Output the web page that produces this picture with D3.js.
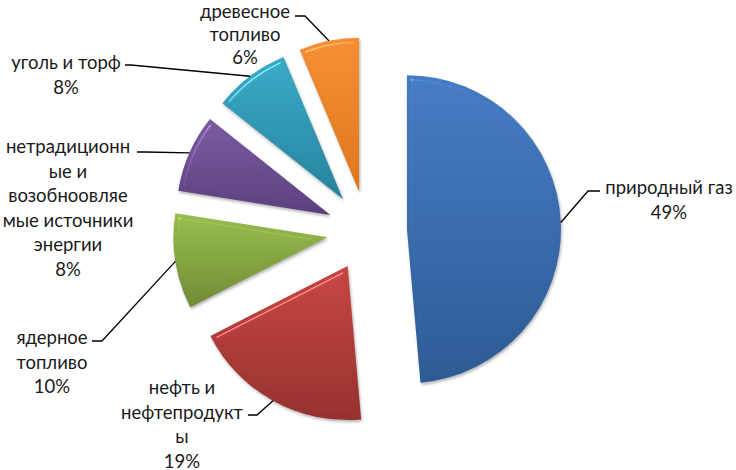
<!DOCTYPE html>
<html><head><meta charset="utf-8">
<script src="https://cdn.jsdelivr.net/npm/d3@7"></script>
<style>html,body{margin:0;padding:0;background:#fff;overflow:hidden}</style>
</head><body>
<svg id="chart" width="736" height="470"></svg>
<script>
// ---- data ----
const categories = ["природный газ", "нефть и нефтепродукты", "ядерное топливо",
  "нетрадиционные и возобноовляемые источники энергии", "уголь и торф", "древесное топливо"];
const values = [48.6, 18.9, 10.0, 8.2, 8.0, 6.3];
const labelLines = [
  ["природный газ"],
  ["нефть и", "нефтепродукт", "ы"],
  ["ядерное", "топливо"],
  ["нетрадиционн", "ые и", "возобноовляе", "мые источники", "энергии"],
  ["уголь и торф"],
  ["древесное", "топливо"]
];
const topColors = ["#467CC4", "#C64643", "#98BD4E", "#7B5AA2", "#3AAAC7", "#F68E35"];
const bottomColors = ["#2C5A94", "#96312F", "#708A34", "#5A407D", "#26839E", "#DD761C"];

// ---- layout ----
const W = 736, H = 470;
const cx = 367, cy = 231, R = 154, explode = 40;
const labelLayout = [
  {x: 669, y: 194, lh: 24.5, elbow: [588, 191], end: [600, 191]},
  {x: 182, y: 394, lh: 24.5, elbow: [257, 415], end: [248, 415]},
  {x: 52,  y: 344, lh: 24.5, elbow: [102, 341], end: [92, 341]},
  {x: 68,  y: 153, lh: 24.5, elbow: [146, 152], end: [137, 152]},
  {x: 66,  y: 69,  lh: 24.5, elbow: [131, 65],  end: [125, 65]},
  {x: 245, y: 18,  lh: 23,   elbow: [305, 16], end: [295, 16]}
];

const svg = d3.select("#chart");
const defs = svg.append("defs");

// bevel + shadow filter
const f = defs.append("filter").attr("id", "bevel")
  .attr("color-interpolation-filters", "sRGB")
  .attr("x", "-10%").attr("y", "-10%").attr("width", "120%").attr("height", "120%");
f.append("feGaussianBlur").attr("in", "SourceAlpha").attr("stdDeviation", 2).attr("result", "blur");
const spec = f.append("feSpecularLighting").attr("in", "blur").attr("surfaceScale", 4)
  .attr("specularConstant", 0.9).attr("specularExponent", 90)
  .attr("lighting-color", "#ffffff").attr("result", "spec");
spec.append("feDistantLight").attr("azimuth", 235).attr("elevation", 55);
f.append("feComposite").attr("in", "spec").attr("in2", "SourceAlpha").attr("operator", "in").attr("result", "specIn");
f.append("feComposite").attr("in", "SourceGraphic").attr("in2", "specIn").attr("operator", "arithmetic")
  .attr("k1", 0).attr("k2", 1).attr("k3", 0.4).attr("k4", 0).attr("result", "lit");
f.append("feGaussianBlur").attr("in", "SourceAlpha").attr("stdDeviation", 1.5).attr("result", "sblur");
f.append("feOffset").attr("in", "sblur").attr("dx", 1).attr("dy", 2).attr("result", "soff");
f.append("feComponentTransfer").attr("in", "soff").attr("result", "shadow")
  .append("feFuncA").attr("type", "linear").attr("slope", 0.3);
const m = f.append("feMerge");
m.append("feMergeNode").attr("in", "shadow");
m.append("feMergeNode").attr("in", "lit");

// gradients
topColors.forEach((c, i) => {
  const g = defs.append("linearGradient").attr("id", "grad" + i)
    .attr("x1", 0).attr("y1", 0).attr("x2", 0).attr("y2", 1);
  g.append("stop").attr("offset", "0%").attr("stop-color", c);
  g.append("stop").attr("offset", "100%").attr("stop-color", bottomColors[i]);
});

const pie = d3.pie().sort(null).value(d => d)(values);
const arc = d3.arc().innerRadius(0).outerRadius(R);

const g = svg.append("g").attr("transform", `translate(${cx},${cy})`);

pie.forEach((p, i) => {
  const mid = (p.startAngle + p.endAngle) / 2;
  const ox = explode * Math.sin(mid), oy = -explode * Math.cos(mid);
  g.append("path")
    .attr("d", arc(p))
    .attr("transform", `translate(${ox},${oy})`)
    .attr("fill", `url(#grad${i})`)
    .attr("filter", "url(#bevel)");
});

// labels + leader lines
const total = d3.sum(values);
const font = "Lato, 'Open Sans', sans-serif";
pie.forEach((p, i) => {
  const mid = (p.startAngle + p.endAngle) / 2;
  const ax = cx + (explode + R) * Math.sin(mid);
  const ay = cy - (explode + R) * Math.cos(mid);
  const L = labelLayout[i];
  svg.append("polyline")
    .attr("points", [[ax, ay], L.elbow, L.end].map(q => q.join(",")).join(" "))
    .attr("fill", "none").attr("stroke", "#000").attr("stroke-width", 1.3);
  const lines = labelLines[i].concat([Math.round(values[i] / total * 100) + "%"]);
  const t = svg.append("text").attr("text-anchor", "middle")
    .attr("font-family", font).attr("font-size", 18.5).attr("fill", "#1a1a1a");
  lines.forEach((s, k) => {
    t.append("tspan").attr("x", L.x).attr("y", L.y + k * L.lh).text(s);
  });
});
</script>
</body></html>
